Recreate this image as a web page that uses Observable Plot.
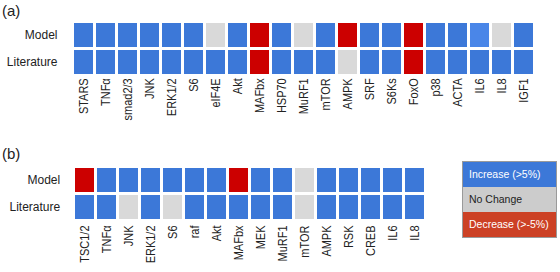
<!DOCTYPE html>
<html>
<head>
<meta charset="utf-8">
<script src="https://cdn.jsdelivr.net/npm/d3@7"></script>
<script src="https://cdn.jsdelivr.net/npm/@observablehq/plot@0.6"></script>
<style>
  html, body { margin: 0; padding: 0; background: #fff; }
  #root { position: relative; width: 560px; height: 272px; overflow: hidden; font-family: "Liberation Sans", Arial, sans-serif; color: #222; }
  .panel { position: absolute; left: 0; }
  .tag { position: absolute; font-size: 15px; color: #222; }
  #legend { position: absolute; left: 462px; top: 161px; width: 93px; border: 1px solid #9a9a9a; }
  #legend div { height: 25px; line-height: 25px; padding-left: 6px; font-size: 10.5px; box-sizing: border-box; }
</style>
</head>
<body>
<div id="root">
  <div class="tag" style="left:2px; top:2px;">(a)</div>
  <div class="tag" style="left:2px; top:145px;">(b)</div>
  <div id="panelA" class="panel" style="top:0px;"></div>
  <div id="panelB" class="panel" style="top:140px;"></div>
  <div id="legend"></div>
</div>
<script>
// ---------- data ----------
const rows = ["Model", "Literature"];

const genesA = ["STARS","TNFα","smad2/3","JNK","ERK1/2","S6","eIF4E","Akt","MAFbx","HSP70","MuRF1","mTOR","AMPK","SRF","S6Ks","FoxO","p38","ACTA","IL6","IL8","IGF1"];
const modelA = ["inc","inc","inc","inc","inc","inc","none","inc","dec","inc","none","inc","dec","inc","inc","dec","inc","inc","incLight","none","inc"];
const litA   = ["inc","inc","inc","inc","inc","inc","inc","inc","dec","inc","inc","inc","none","inc","inc","dec","inc","inc","inc","inc","inc"];

const genesB = ["TSC1/2","TNFα","JNK","ERK1/2","S6","raf","Akt","MAFbx","MEK","MuRF1","mTOR","AMPK","RSK","CREB","IL6","IL8"];
const modelB = ["dec","inc","inc","inc","inc","inc","inc","dec","inc","inc","none","inc","inc","inc","inc","inc"];
const litB   = ["inc","inc","none","inc","none","inc","inc","inc","inc","inc","none","inc","inc","inc","inc","inc"];

const stateKeys   = ["inc","incLight","none","dec"];
const stateColors = ["#3c78d8","#4a86e8","#d9d9d9","#cc0000"];

const legendLabels = ["Increase (>5%)","No Change","Decrease (>-5%)"];
const legendFill   = ["#3c78d8","#cccccc","#cc4125"];
const legendText   = ["#ffffff","#222222","#ffffff"];

// ---------- build ----------
function table(genes, model, lit) {
  const out = [];
  genes.forEach((g, i) => {
    out.push({gene: g, row: rows[0], state: model[i]});
    out.push({gene: g, row: rows[1], state: lit[i]});
  });
  return out;
}

function panel(genes, model, lit, m) {
  const svg = Plot.plot({
    width: 560,
    height: m.height,
    marginLeft: m.left,
    marginRight: m.right,
    marginTop: m.top,
    marginBottom: m.bottom,
    style: {fontFamily: '"Liberation Sans", Arial, sans-serif', color: "#222", background: "transparent"},
    x: {domain: genes, paddingInner: 0.13, paddingOuter: 0, axis: null},
    y: {domain: rows, paddingInner: 0.1, paddingOuter: 0, axis: null},
    color: {domain: stateKeys, range: stateColors},
    marks: [
      Plot.cell(table(genes, model, lit), {x: "gene", y: "row", fill: "state", inset: 0}),
      Plot.axisX({tickRotate: -90, tickSize: 0, tickPadding: m.pad, fontSize: 11, label: null}),
      Plot.axisY({tickSize: 0, tickPadding: 8, fontSize: 12, label: null})
    ]
  });
  // the source image is slightly stretched horizontally; mimic the wider glyphs
  svg.querySelectorAll('[aria-label="x-axis tick label"] text').forEach(t => {
    const tr = t.getAttribute("transform");
    if (tr && tr.includes("rotate")) t.setAttribute("transform", tr + " scale(1,1.2)");
  });
  return svg;
}

document.getElementById("panelA").appendChild(
  panel(genesA, modelA, litA, {height: 130, left: 65, right: 17, top: 22.5, bottom: 55.7, pad: 3.5})
);
document.getElementById("panelB").appendChild(
  panel(genesB, modelB, litB, {height: 132, left: 67.7, right: 129, top: 27.7, bottom: 52, pad: 5})
);

const lg = document.getElementById("legend");
legendLabels.forEach((l, i) => {
  const d = document.createElement("div");
  d.textContent = l;
  d.style.background = legendFill[i];
  d.style.color = legendText[i];
  lg.appendChild(d);
});
</script>
</body>
</html>
